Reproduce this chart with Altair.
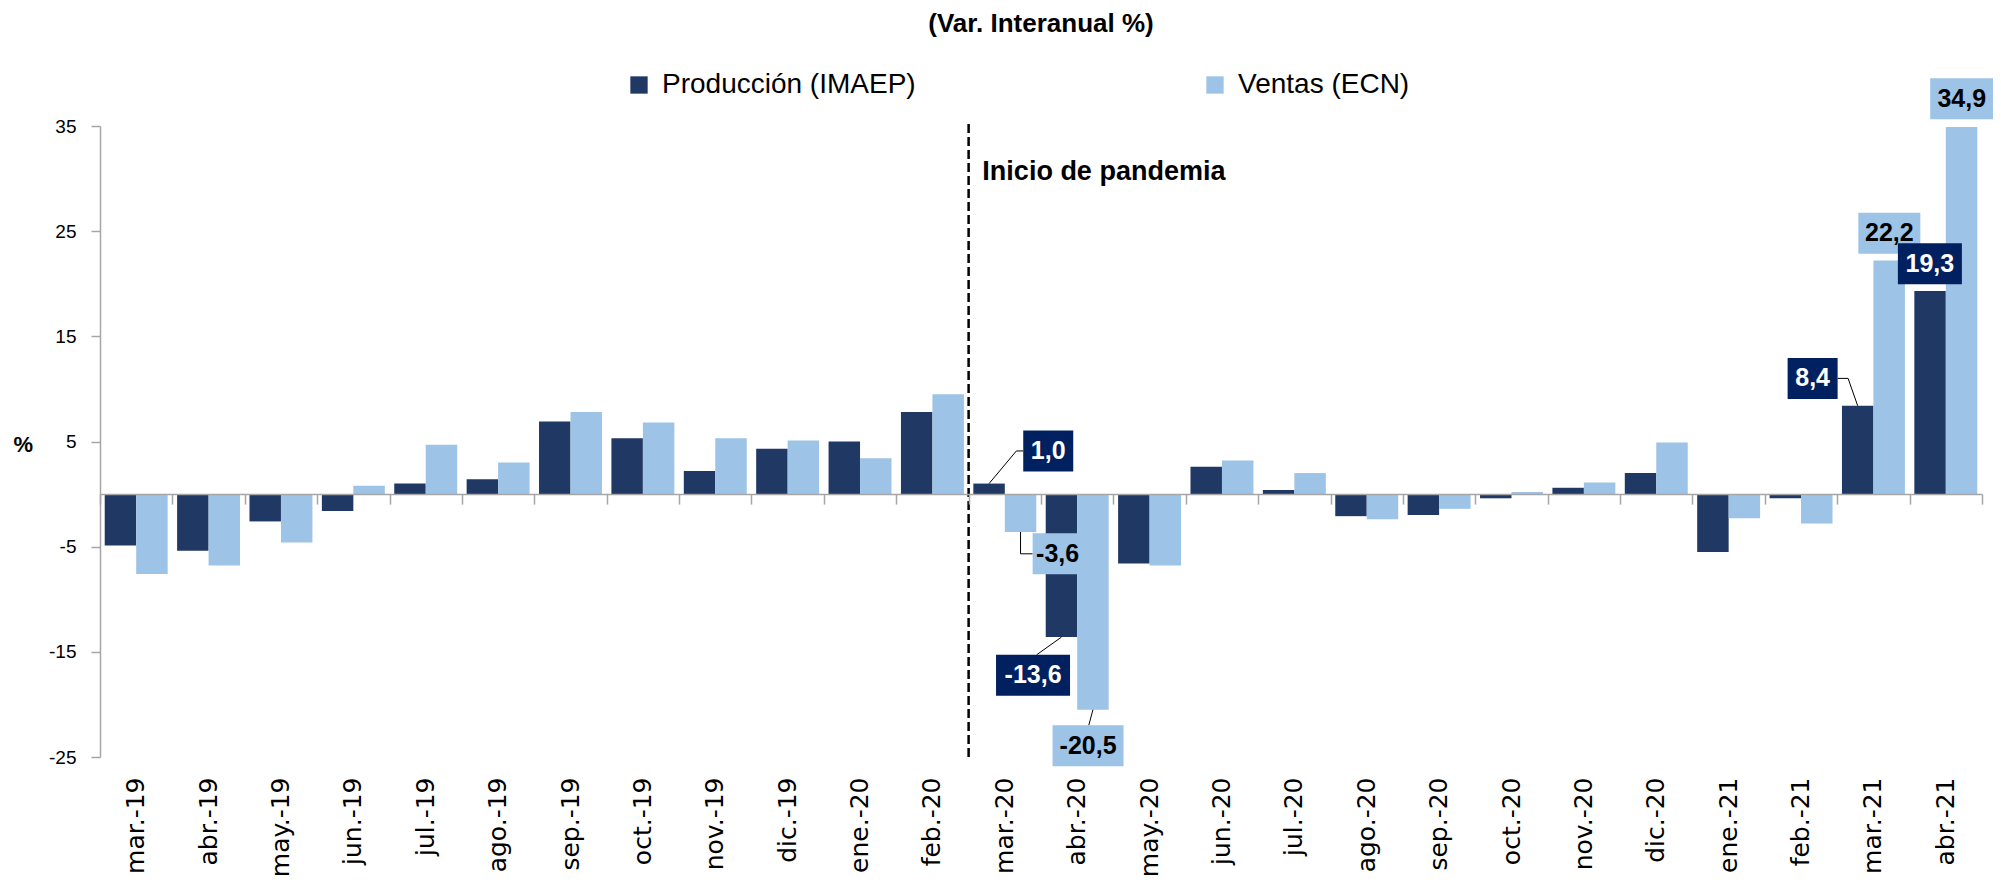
import altair as alt
import pandas as pd

# ---------------- data ----------------
categories = ["mar.-19", "abr.-19", "may.-19", "jun.-19", "jul.-19", "ago.-19",
              "sep.-19", "oct.-19", "nov.-19", "dic.-19", "ene.-20", "feb.-20",
              "mar.-20", "abr.-20", "may.-20", "jun.-20", "jul.-20", "ago.-20",
              "sep.-20", "oct.-20", "nov.-20", "dic.-20", "ene.-21", "feb.-21",
              "mar.-21", "abr.-21"]
produccion = [-4.9, -5.4, -2.6, -1.6, 1.0, 1.4, 6.9, 5.3, 2.2, 4.3, 5.0, 7.8,
              1.0, -13.6, -6.6, 2.6, 0.4, -2.1, -2.0, -0.4, 0.6, 2.0, -5.5, -0.4,
              8.4, 19.3]
ventas = [-7.6, -6.8, -4.6, 0.8, 4.7, 3.0, 7.8, 6.8, 5.3, 5.1, 3.4, 9.5,
          -3.6, -20.5, -6.8, 3.2, 2.0, -2.4, -1.4, 0.2, 1.1, 4.9, -2.3, -2.8,
          22.2, 34.9]
series_names = ["Producción (IMAEP)", "Ventas (ECN)"]
title_text = "(Var. Interanual %)"
event_text = "Inicio de pandemia"
event_category = "mar.-20"
y_ticks = [-25, -15, -5, 5, 15, 25, 35]
Y_MIN, Y_MAX = -25, 35

# labelled bars (category, series index)
label_cats = ["mar.-20", "mar.-20", "abr.-20", "abr.-20", "mar.-21", "mar.-21", "abr.-21", "abr.-21"]
label_series = [0, 1, 0, 1, 0, 1, 0, 1]

# ---------------- annotation layout (category units / data units) ----------------
label_xc = [13.10, 13.23, 12.89, 13.65, 23.66, 24.72, 25.28, 25.72]
label_yc = [4.1, -5.68, -17.23, -23.94, 11.0, 24.8, 21.9, 37.6]
label_wpx = [50, 50, 74, 71, 50, 62, 64, 63]
leader_pts = {
    0: [(12.66, 4.1), (12.755, 4.1)],
    1: [(None, -5.68), (12.885, -5.68)],
    2: [(12.94, -15.28)],
    3: [(13.66, -21.99)],
    4: [(24.15, 11.0), (24.005, 11.0)],
}
event_pos = (0.19, 30.6)      # offset in category units from the line, y in data units
event_line_top = 35.3

# ---------------- style ----------------
W, H = 1882, 631
PAD = {"left": 92, "top": 118, "right": 11, "bottom": 120}
FONT = "Liberation Sans"
XFONT = "DejaVu Sans"
C_PROD = "#203864"
C_VENT = "#9DC3E6"
BOX_FILL = ["#002060", "#9DC3E6"]
BOX_TEXT = ["#FFFFFF", "#000000"]
AXIS_GRAY = "#A6A6A6"
BOX_H_PX = 41

N = len(categories)
step_px = W / N
unit_px = H / (Y_MAX - Y_MIN)
bar_pad = 0.15
bar_step = 1 / (2 + 2 * bar_pad)
centre_frac = [(bar_pad + 0.5 + k) * bar_step for k in range(2)]
series_vals = [produccion, ventas]

# ---------------- tables ----------------
bars_df = pd.DataFrame(
    [{"cat": c, "series": series_names[s], "value": series_vals[s][i]}
     for i, c in enumerate(categories) for s in range(2)]
)

lab_rows, lead_rows = [], []
for j, (c, s) in enumerate(zip(label_cats, label_series)):
    idx = categories.index(c)
    v = series_vals[s][idx]
    hw = label_wpx[j] / 2 / step_px
    hh = BOX_H_PX / 2 / unit_px
    lab_rows.append({
        "xc": label_xc[j], "yc": label_yc[j],
        "x1": label_xc[j] - hw, "x2": label_xc[j] + hw,
        "y1": label_yc[j] - hh, "y2": label_yc[j] + hh,
        "text": f"{v:.1f}".replace(".", ","),
        "fill": BOX_FILL[s], "tcol": BOX_TEXT[s],
    })
    if j in leader_pts:
        bx = idx + centre_frac[s]
        pts = [(bx, v)] + [((bx if px is None else px), py) for px, py in leader_pts[j]]
        for k, (px, py) in enumerate(pts):
            lead_rows.append({"lid": j, "ord": k, "xp": px, "y": py})
lab_df = pd.DataFrame(lab_rows)
lead_df = pd.DataFrame(lead_rows)

ev_idx = categories.index(event_category)
event_df = pd.DataFrame([{"xp": ev_idx, "y": Y_MIN, "y2": event_line_top}])
event_txt_df = pd.DataFrame([{"xp": ev_idx + event_pos[0], "y": event_pos[1], "text": event_text}])

# ---------------- scales / axes ----------------
y_scale = alt.Scale(domain=[Y_MIN, Y_MAX], nice=False, zero=False)
lin_x = alt.Scale(domain=[0, N], nice=False, zero=False)
yaxis = alt.Axis(values=y_ticks, title="%", titleAngle=0, titleFont=FONT, titleFontSize=22,
                 titleFontWeight="bold", titleColor="black", titleX=-87,
                 titleY=(Y_MAX - 5) * unit_px + 3, titleAlign="left", titleBaseline="middle",
                 domainColor=AXIS_GRAY, domainWidth=1.5, tickColor=AXIS_GRAY, tickSize=9,
                 tickWidth=1.5, labelFont=FONT, labelFontSize=19, labelColor="black",
                 labelPadding=15, labelExpr="'' + datum.value", grid=False)

bars = alt.Chart(bars_df).mark_bar().encode(
    x=alt.X("cat:N", sort=categories,
            scale=alt.Scale(domain=categories, paddingInner=0, paddingOuter=0),
            axis=alt.Axis(title=None, domain=False, ticks=False, labelAngle=-90,
                          labelFont=XFONT, labelFontSize=25, labelColor="black",
                          labelPadding=20, orient="bottom", grid=False)),
    xOffset=alt.XOffset("series:N", sort=series_names,
                        scale=alt.Scale(domain=series_names, paddingInner=0, paddingOuter=bar_pad)),
    y=alt.Y("value:Q", scale=y_scale, axis=yaxis),
    color=alt.Color("series:N", sort=series_names,
                    scale=alt.Scale(domain=series_names, range=[C_PROD, C_VENT]),
                    legend=alt.Legend(title=None, orient="none", legendX=525, legendY=-55,
                                      direction="horizontal", columns=2, columnPadding=285,
                                      symbolType="square", symbolSize=300, symbolStrokeWidth=0,
                                      labelFont=FONT, labelFontSize=28, labelColor="black",
                                      labelOffset=9, labelLimit=500)),
)

zero_axis = alt.Axis(values=list(range(N + 1)), labels=False, title=None, grid=False,
                     domain=True, domainColor=AXIS_GRAY, domainWidth=1.5,
                     ticks=True, tickColor=AXIS_GRAY, tickSize=10, tickWidth=1.5,
                     orient="bottom", offset=-(0 - Y_MIN) * unit_px, zindex=1)

event_line = alt.Chart(event_df).mark_rule(color="black", strokeWidth=2.5, strokeDash=[9, 4]).encode(
    x=alt.X("xp:Q", scale=lin_x, axis=zero_axis),
    y=alt.Y("y:Q", scale=y_scale, axis=yaxis),
    y2="y2:Q",
)

event_label = alt.Chart(event_txt_df).mark_text(
    font=FONT, fontSize=27, fontWeight="bold", align="left", baseline="middle", color="black"
).encode(
    x=alt.X("xp:Q", scale=lin_x, axis=None),
    y=alt.Y("y:Q", scale=y_scale, axis=yaxis),
    text="text:N",
)

leaders = alt.Chart(lead_df).mark_line(color="black", strokeWidth=1).encode(
    x=alt.X("xp:Q", scale=lin_x, axis=None),
    y=alt.Y("y:Q", scale=y_scale, axis=yaxis),
    detail="lid:N",
    order="ord:Q",
)

boxes = alt.Chart(lab_df).mark_rect().encode(
    x=alt.X("x1:Q", scale=lin_x, axis=None),
    x2="x2:Q",
    y=alt.Y("y1:Q", scale=y_scale, axis=yaxis),
    y2="y2:Q",
    fill=alt.Fill("fill:N", scale=None),
)

box_text = alt.Chart(lab_df).mark_text(
    font=FONT, fontSize=25, fontWeight="bold", align="center", baseline="middle"
).encode(
    x=alt.X("xc:Q", scale=lin_x, axis=None),
    y=alt.Y("yc:Q", scale=y_scale, axis=yaxis),
    text="text:N",
    fill=alt.Fill("tcol:N", scale=None),
)

chart = alt.layer(bars, event_line, event_label, leaders, boxes, box_text).resolve_scale(
    x="independent"
).properties(
    width=W, height=H,
    padding=PAD,
    autosize=alt.AutoSizeParams(type="none"),
    background="white",
    title=alt.TitleParams(title_text, font=FONT, fontSize=26, fontWeight="bold", color="black",
                          anchor="middle", offset=34),
).configure_view(stroke=None)

chart.save("out.html", embed_options={"renderer": "svg", "actions": False})
